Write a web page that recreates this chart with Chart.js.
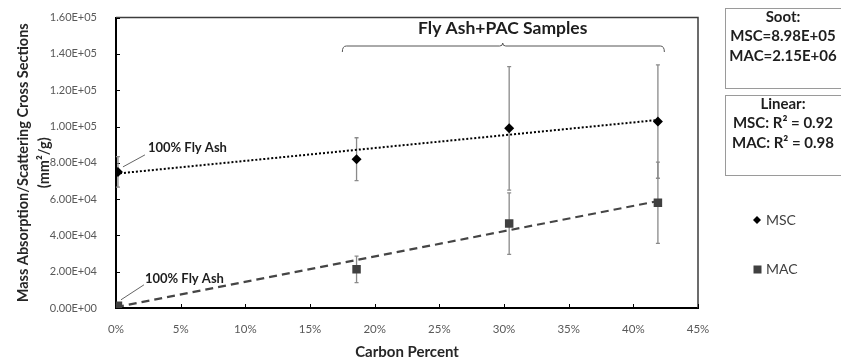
<!DOCTYPE html>
<html>
<head>
<meta charset="utf-8">
<script src="https://cdn.jsdelivr.net/npm/chart.js@4.4.0/dist/chart.umd.min.js"></script>
<style>
  html, body { margin: 0; padding: 0; background: #fff; }
</style>
</head>
<body>
<canvas id="chart" width="841" height="362"></canvas>
<script>
// Carbon content of each sample (%)
const carbonPct = [0.15, 18.6, 30.4, 41.9];
// Mass scattering cross section (MSC) with its error
const mscValues = [75000, 82000, 99000, 102700];
const mscErrors = [8400, 11800, 34000, 31200];
// Mass absorption cross section (MAC) with its error
const macValues = [1200, 21300, 46500, 58000];
const macErrors = [600, 7300, 16900, 22400];
// Linear fit end points [carbon %, value]
const mscTrend = [[0, 74000], [41.9, 103600]];
const macTrend = [[0, 500], [41.9, 58900]];
// Axis ticks
const yTicks = [0, 20000, 40000, 60000, 80000, 100000, 120000, 140000, 160000];
const xTicks = [0, 5, 10, 15, 20, 25, 30, 35, 40, 45];
// Side notes
const sootNote = ['Soot:', 'MSC=8.98E+05', 'MAC=2.15E+06'];
const fitNote = ['Linear:', 'MSC: R² = 0.92', 'MAC: R² = 0.98'];
const seriesNames = ['MSC', 'MAC'];

const FONT = 'Lato, "Open Sans", sans-serif';
const MSC_COLOR = '#000000';
const MAC_COLOR = '#404040';

function sci(v) {
  if (v === 0) return '0.00E+00';
  const e = Math.floor(Math.log10(v));
  const m = v / Math.pow(10, e);
  return m.toFixed(2) + 'E+' + String(e).padStart(2, '0');
}

const toPoints = (xs, ys) => xs.map((x, i) => ({ x: x, y: ys[i] }));
const toLine = (pairs) => pairs.map(p => ({ x: p[0], y: p[1] }));

// Frame, inner tick marks and error bars (under the markers)
const underlay = {
  id: 'underlay',
  beforeDatasetsDraw(chart) {
    const { ctx, chartArea: a, scales: { x, y } } = chart;
    ctx.save();
    ctx.strokeStyle = '#3c3c3c';
    ctx.lineWidth = 1.5;
    ctx.beginPath();
    ctx.moveTo(a.left, a.top);
    ctx.lineTo(a.right, a.top);
    ctx.lineTo(a.right, a.bottom);
    ctx.stroke();

    ctx.strokeStyle = '#000';
    ctx.lineWidth = 1;
    ctx.beginPath();
    yTicks.forEach(v => {
      const py = Math.round(y.getPixelForValue(v)) + 0.5;
      ctx.moveTo(a.left, py);
      ctx.lineTo(a.left + 4, py);
    });
    xTicks.forEach(v => {
      const px = Math.round(x.getPixelForValue(v)) + 0.5;
      ctx.moveTo(px, a.bottom);
      ctx.lineTo(px, a.bottom - 4);
    });
    ctx.stroke();

    ctx.strokeStyle = '#8a8a8a';
    ctx.lineWidth = 1.3;
    const bars = (vals, errs) => {
      vals.forEach((v, i) => {
        const px = x.getPixelForValue(carbonPct[i]);
        const top = y.getPixelForValue(v + errs[i]);
        const bot = y.getPixelForValue(v - errs[i]);
        ctx.beginPath();
        ctx.moveTo(px, top);
        ctx.lineTo(px, bot);
        ctx.moveTo(px - 2, top);
        ctx.lineTo(px + 2, top);
        ctx.moveTo(px - 2, bot);
        ctx.lineTo(px + 2, bot);
        ctx.stroke();
      });
    };
    bars(mscValues, mscErrors);
    bars(macValues, macErrors);
    ctx.restore();
  }
};

// Labels, bracket, notes and legend
const overlay = {
  id: 'overlay',
  afterDraw(chart) {
    const { ctx, scales: { x, y } } = chart;
    ctx.save();
    ctx.fillStyle = '#1e1e1e';
    ctx.strokeStyle = '#3c3c3c';
    ctx.textBaseline = 'middle';

    // "100% Fly Ash" callouts
    ctx.font = 'bold 13px ' + FONT;
    ctx.lineWidth = 0.8;
    const p1x = x.getPixelForValue(carbonPct[0]);
    const p1y = y.getPixelForValue(mscValues[0]);
    ctx.beginPath();
    ctx.moveTo(p1x + 5, p1y - 5);
    ctx.lineTo(p1x + 27, p1y - 17);
    ctx.stroke();
    ctx.fillText('100% Fly Ash', p1x + 30, p1y - 24);
    const p2x = x.getPixelForValue(carbonPct[0]);
    const p2y = y.getPixelForValue(macValues[0]);
    ctx.beginPath();
    ctx.moveTo(p2x + 3, p2y - 6);
    ctx.lineTo(p2x + 26, p2y - 21);
    ctx.stroke();
    ctx.fillText('100% Fly Ash', p2x + 27, p2y - 27);

    // Bracket over the fly ash + PAC samples
    const bl = x.getPixelForValue(17.5);
    const br = x.getPixelForValue(42.4);
    const bm = x.getPixelForValue(29.9);
    const by = 46;
    ctx.lineWidth = 1;
    ctx.strokeStyle = '#555';
    ctx.beginPath();
    ctx.moveTo(bl, by + 6);
    ctx.quadraticCurveTo(bl, by, bl + 4, by);
    ctx.lineTo(bm - 3, by);
    ctx.quadraticCurveTo(bm, by, bm, by - 3);
    ctx.quadraticCurveTo(bm, by, bm + 3, by);
    ctx.lineTo(br - 4, by);
    ctx.quadraticCurveTo(br, by, br, by + 6);
    ctx.stroke();
    ctx.font = 'bold 17.5px ' + FONT;
    ctx.textAlign = 'center';
    ctx.fillText('Fly Ash+PAC Samples', bm, 28);

    // Note boxes
    ctx.strokeStyle = '#9a9a9a';
    ctx.lineWidth = 1;
    ctx.strokeRect(725.5, 8.5, 116, 80);
    ctx.strokeRect(725.5, 95.5, 116, 80);
    ctx.font = 'bold 15px ' + FONT;
    sootNote.forEach((t, i) => ctx.fillText(t, 783, 17 + i * 19.5));
    fitNote.forEach((t, i) => ctx.fillText(t, 783, 104 + i * 19.5));

    // Legend
    ctx.textAlign = 'left';
    ctx.font = '14px ' + FONT;
    ctx.fillStyle = '#404040';
    ctx.fillText(seriesNames[0], 766, 220);
    ctx.fillText(seriesNames[1], 766, 269);
    ctx.fillStyle = MSC_COLOR;
    ctx.beginPath();
    ctx.moveTo(757, 216);
    ctx.lineTo(761, 220);
    ctx.lineTo(757, 224);
    ctx.lineTo(753, 220);
    ctx.closePath();
    ctx.fill();
    ctx.fillStyle = MAC_COLOR;
    ctx.fillRect(753.5, 265.5, 8, 8);
    ctx.restore();
  }
};

new Chart(document.getElementById('chart'), {
  type: 'scatter',
  data: {
    datasets: [
      {
        label: 'MSC',
        data: toPoints(carbonPct, mscValues),
        pointStyle: 'rectRot',
        pointRadius: 5,
        backgroundColor: MSC_COLOR,
        borderColor: MSC_COLOR,
        borderWidth: 0
      },
      {
        label: 'MAC',
        data: toPoints(carbonPct, macValues),
        pointStyle: 'rect',
        pointRadius: 6,
        backgroundColor: MAC_COLOR,
        borderColor: MAC_COLOR,
        borderWidth: 0
      },
      {
        label: 'MSC fit',
        data: toLine(mscTrend),
        showLine: true,
        pointRadius: 0,
        borderColor: '#000',
        borderWidth: 2,
        borderDash: [2, 2]
      },
      {
        label: 'MAC fit',
        data: toLine(macTrend),
        showLine: true,
        pointRadius: 0,
        borderColor: '#454545',
        borderWidth: 2.2,
        borderDash: [8, 5]
      }
    ]
  },
  options: {
    responsive: false,
    animation: false,
    devicePixelRatio: 1,
    layout: { padding: { top: 10, right: 143, left: 0, bottom: 0 } },
    plugins: {
      legend: { display: false },
      tooltip: { enabled: false }
    },
    scales: {
      x: {
        type: 'linear',
        min: 0,
        max: 45,
        afterFit: (s) => { s.height = 54; },
        afterBuildTicks: (s) => { s.ticks = xTicks.map(v => ({ value: v })); },
        grid: { display: false },
        border: { display: true, color: '#000', width: 2 },
        ticks: {
          padding: 6,
          color: '#595959',
          font: { family: FONT, size: 11.5 },
          callback: (v) => v + '%'
        },
        title: {
          display: true,
          text: 'Carbon Percent',
          color: '#262626',
          font: { family: FONT, size: 15, weight: 'bold', lineHeight: 1.2 },
          padding: { top: 0, bottom: 1 }
        }
      },
      y: {
        type: 'linear',
        min: 0,
        max: 160000,
        afterFit: (s) => { s.width = 116; },
        afterBuildTicks: (s) => { s.ticks = yTicks.map(v => ({ value: v })); },
        grid: { display: false },
        border: { display: true, color: '#000', width: 2 },
        ticks: {
          padding: 11,
          color: '#595959',
          font: { family: FONT, size: 11 },
          callback: (v) => sci(v)
        },
        title: {
          display: true,
          text: ['Mass Absorption/Scattering Cross Sections', '(mm²/g)'],
          color: '#262626',
          font: { family: FONT, size: 14.5, weight: 'bold', lineHeight: 1.45 },
          padding: { top: 13, bottom: 0 }
        }
      }
    }
  },
  plugins: [underlay, overlay]
});
</script>
</body>
</html>
